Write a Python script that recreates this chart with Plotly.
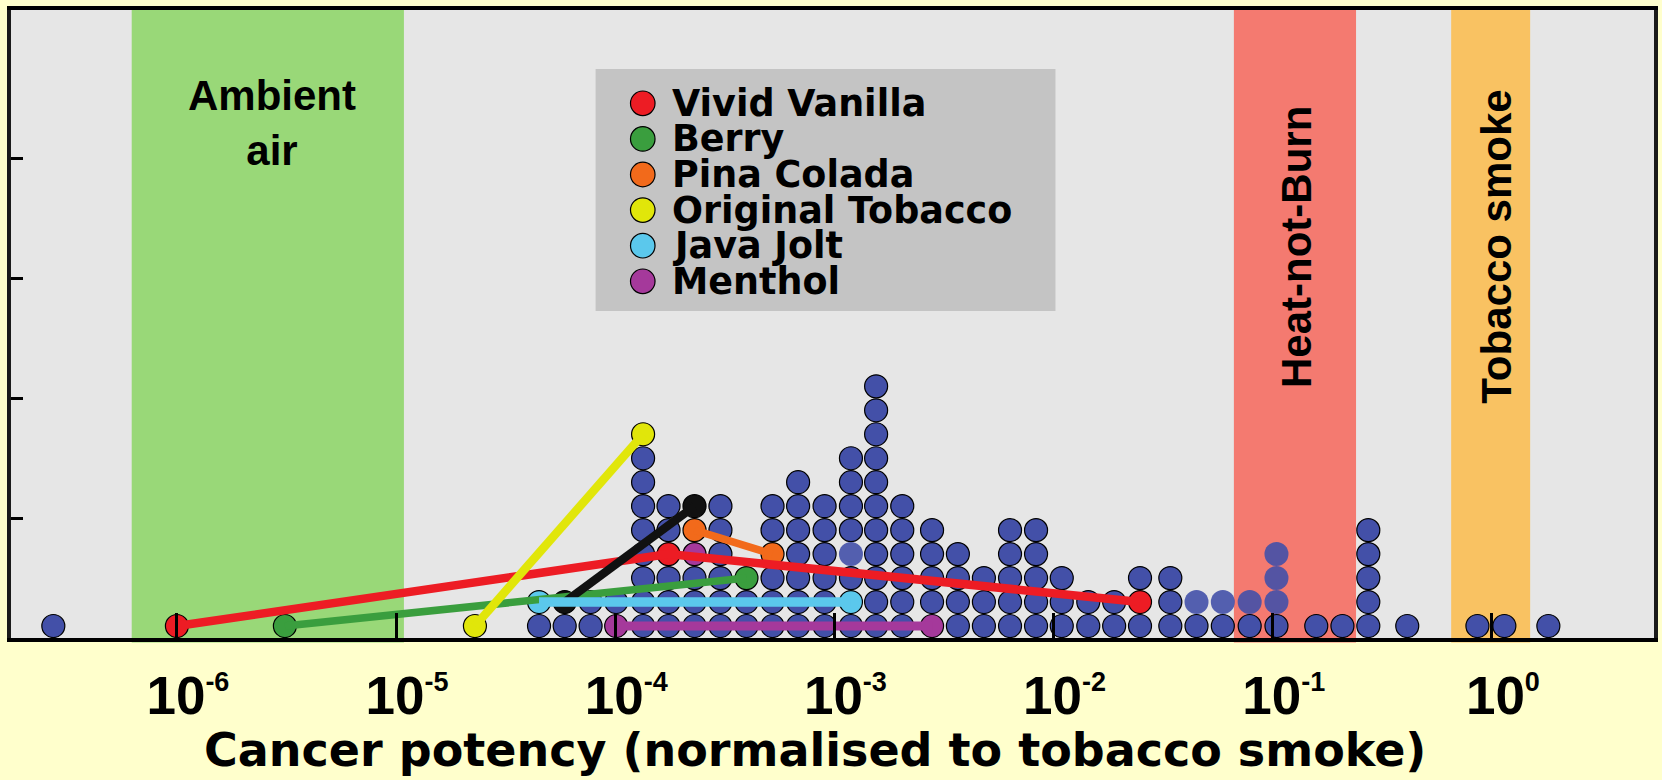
import math
import plotly.graph_objects as go

# ---------------------------------------------------------------------------
# Data: cancer potency of each result (normalised to tobacco smoke).
# Results falling in the same potency bin are stacked as dots.
# ---------------------------------------------------------------------------
bin_potency = [2.73e-7, 1.0e-6, 3.11e-6, 2.29e-5, 4.49e-5, 5.88e-5, 7.72e-5, 1.01e-4,
               1.34e-4, 1.75e-4, 2.30e-4, 3.02e-4, 3.97e-4, 5.22e-4, 6.83e-4, 9.02e-4,
               1.19e-3, 1.55e-3, 2.04e-3, 2.79e-3, 3.66e-3, 4.81e-3, 6.33e-3, 8.32e-3,
               1.09e-2, 1.44e-2, 1.89e-2, 2.48e-2, 3.41e-2, 4.49e-2, 5.92e-2, 7.85e-2,
               0.104, 0.158, 0.208, 0.273, 0.411, 0.859, 1.14, 1.81]
bin_count = [1, 1, 1, 1, 2, 2, 2, 2, 9, 6, 6, 6, 3, 6, 7, 6, 8, 11, 6, 5,
             4, 3, 5, 5, 3, 2, 2, 3, 3, 2, 2, 2, 4, 1, 1, 5, 1, 1, 1, 1]

# results drawn without an outline (potency, position in stack)
faint_potency = [1.19e-3, 4.49e-2, 5.92e-2, 7.85e-2, 0.104, 0.104, 0.104]
faint_level = [4, 2, 2, 2, 2, 3, 4]

# e-cigarette flavours (potency, position in stack)
flavour_names = ["Vivid Vanilla", "Berry", "Pina Colada", "Original Tobacco", "Java Jolt", "Menthol"]
flavour_colors = ["#ED1C24", "#3A9E3E", "#F26A1B", "#E1E60A", "#5BC8EC", "#A5399B"]
flavour_widths = [8.5, 7.5, 7.5, 8.5, 9.5, 9]

vivid_vanilla_potency = [1.0e-6, 1.75e-4, 2.48e-2]
vivid_vanilla_level = [1, 4, 2]
berry_potency = [3.11e-6, 3.97e-4]
berry_level = [1, 3]
pina_colada_potency = [2.30e-4, 5.22e-4]
pina_colada_level = [5, 4]
original_tobacco_potency = [2.29e-5, 1.34e-4]
original_tobacco_level = [1, 9]
java_jolt_potency = [4.49e-5, 1.19e-3]
java_jolt_level = [2, 2]
menthol_potency = [1.01e-4, 2.79e-3]
menthol_level = [1, 1]
menthol_single_potency = [2.30e-4]
menthol_single_level = [4]
other_potency = [5.88e-5, 2.30e-4]
other_level = [2, 6]

# reference ranges
band_names = ["Ambient<br>air", "Heat-not-Burn", "Tobacco smoke"]
band_low = [6.22e-7, 0.0665, 0.652]
band_high = [1.086e-5, 0.2400, 1.495]
band_colors = ["#99D878", "#F47A70", "#F9C262"]

tick_exponents = [-6, -5, -4, -3, -2, -1, 0]
x_title = "Cancer potency (normalised to tobacco smoke)"

# ---------------------------------------------------------------------------
W, H = 1662, 780
ML, MR, MT, MB = 11, 4, 10, 142
PW, PH = W - ML - MR, H - MT - MB

BLUE = "#4350A8"
DOT = 23


def px_x(p):
    return (p - ML) / PW


def px_y(p):
    return (H - MB - p) / PH


def centre(level):
    return level - 0.5


series = [
    (vivid_vanilla_potency, vivid_vanilla_level),
    (berry_potency, berry_level),
    (pina_colada_potency, pina_colada_level),
    (original_tobacco_potency, original_tobacco_level),
    (java_jolt_potency, java_jolt_level),
    (menthol_potency, menthol_level),
]

occupied = set()
for pot, lev in series + [(menthol_single_potency, menthol_single_level),
                          (other_potency, other_level),
                          (faint_potency, faint_level)]:
    for p, l in zip(pot, lev):
        occupied.add((round(math.log10(p), 3), l))

dot_x, dot_y = [], []
for p, n in zip(bin_potency, bin_count):
    for l in range(1, n + 1):
        if (round(math.log10(p), 3), l) not in occupied:
            dot_x.append(p)
            dot_y.append(centre(l))

fig = go.Figure()

# stacked results
fig.add_trace(go.Scatter(
    x=dot_x, y=dot_y, mode="markers", hoverinfo="skip",
    marker=dict(size=DOT, color=BLUE, line=dict(color="#000000", width=1.2)),
))
fig.add_trace(go.Scatter(
    x=faint_potency, y=[centre(l) for l in faint_level], mode="markers", hoverinfo="skip",
    marker=dict(size=DOT + 1, color=BLUE, opacity=0.9, line=dict(width=0)),
))

# flavour markers
for (pot, lev), col in zip(series, flavour_colors):
    fig.add_trace(go.Scatter(
        x=pot, y=[centre(l) for l in lev], mode="markers",
        marker=dict(size=DOT, color=col, line=dict(color="#000000", width=1.2)),
    ))
fig.add_trace(go.Scatter(
    x=menthol_single_potency, y=[centre(l) for l in menthol_single_level], mode="markers",
    marker=dict(size=DOT, color=flavour_colors[5], line=dict(color="#000000", width=1.2)),
))
fig.add_trace(go.Scatter(
    x=other_potency, y=[centre(l) for l in other_level], mode="markers",
    marker=dict(size=DOT, color="#111111", line=dict(color="#000000", width=1.2)),
))

# connecting lines, drawn over the markers
line_order = [0, 2, 1, "other", 3, 4, 5]
for idx in line_order:
    if idx == "other":
        pot, lev, col, w = other_potency, other_level, "#111111", 8.5
    else:
        pot, lev = series[idx]
        col, w = flavour_colors[idx], flavour_widths[idx]
    fig.add_trace(go.Scatter(
        x=pot, y=[centre(l) for l in lev], mode="lines",
        line=dict(color=col, width=w), hoverinfo="skip",
    ))

# reference bands
shapes = []
for lo, hi, col in zip(band_low, band_high, band_colors):
    shapes.append(dict(type="rect", xref="x", yref="paper", x0=lo, x1=hi,
                       y0=-0.007, y1=1, fillcolor=col, line=dict(width=0), layer="below"))

annotations = []
band_font = dict(family="Liberation Sans, Arial, sans-serif", size=42, color="#000000", weight=700)
annotations.append(dict(
    x=(math.log10(band_low[0]) + math.log10(band_high[0])) / 2, xref="x",
    y=px_y(123), yref="paper", text=band_names[0], showarrow=False,
    font=band_font, align="center", xanchor="center", yanchor="middle", xshift=4,
))
for i, xs in [(1, 2), (2, 6)]:
    annotations.append(dict(
        x=(math.log10(band_low[i]) + math.log10(band_high[i])) / 2, xref="x",
        y=px_y(247), yref="paper", text=band_names[i], showarrow=False,
        font=band_font, textangle=-90, xanchor="center", yanchor="middle", xshift=xs,
    ))

# axis title
annotations.append(dict(
    x=px_x(817), y=px_y(750), xref="paper", yref="paper", text=x_title, showarrow=False,
    font=dict(family="DejaVu Sans, sans-serif", size=46, color="#000000", weight=700),
    xanchor="center", yanchor="middle",
))

# legend panel
leg_left, leg_right, leg_top, leg_bottom = 597, 1058, 69, 311
shapes.append(dict(type="rect", xref="paper", yref="paper",
                   x0=px_x(leg_left), x1=px_x(leg_right), y0=px_y(leg_bottom), y1=px_y(leg_top),
                   fillcolor="#C4C4C4", line=dict(width=0), layer="above"))
leg_font = dict(family="DejaVu Sans, sans-serif", size=36.5, color="#000000", weight=700)
r = 12.3
for i, (name, col) in enumerate(zip(flavour_names, flavour_colors)):
    cy = 103.3 + 35.6 * i
    cx = 644.3
    shapes.append(dict(type="circle", xref="paper", yref="paper",
                       x0=px_x(cx - r), x1=px_x(cx + r), y0=px_y(cy + r), y1=px_y(cy - r),
                       fillcolor=col, line=dict(color="#000000", width=1.2), layer="above"))
    annotations.append(dict(x=px_x(672), y=px_y(cy), xref="paper", yref="paper",
                            text=name, showarrow=False, font=leg_font,
                            xanchor="left", yanchor="middle"))

tick_text = [f"10<sup><span style='font-size:27px'>{e}</span></sup>" for e in tick_exponents]

fig.update_layout(
    width=W, height=H,
    margin=dict(l=ML, r=MR, t=MT, b=MB, pad=0),
    paper_bgcolor="#FFFFCC", plot_bgcolor="#E6E6E6",
    showlegend=False,
    shapes=shapes, annotations=annotations,
    xaxis=dict(
        type="log", range=[-6.757, 0.7397],
        tickvals=[10.0 ** e for e in tick_exponents], ticktext=tick_text,
        ticks="inside", ticklen=25, tickwidth=3, tickcolor="#000000",
        showline=True, linewidth=4, linecolor="#000000", mirror=True,
        showgrid=False, zeroline=False,
        tickfont=dict(family="Liberation Sans, Arial, sans-serif",
                      size=53, color="#000000", weight=700),
        ticklabelstandoff=8, ticklabelshift=11,
    ),
    yaxis=dict(
        range=[0, 26.2], tickvals=[5, 10, 15, 20], showticklabels=False,
        ticks="inside", ticklen=12, tickwidth=3, tickcolor="#000000",
        showline=True, linewidth=3.5, linecolor="#1A1A1A", mirror=True,
        showgrid=False, zeroline=False,
    ),
)

fig.write_html("out.html")
